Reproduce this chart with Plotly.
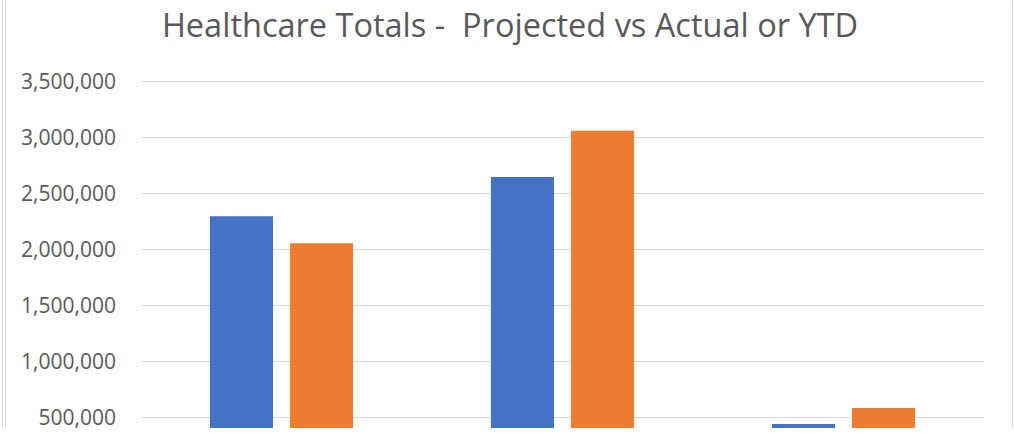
import plotly.graph_objects as go

categories = ["Period 1", "Period 2", "Period 3"]
projected = [2300000, 2650000, 445000]
actual_ytd = [2060000, 3065000, 587000]

W, H = 1014, 443
L, R, T, B = 141, 30, 70, 13

fig = go.Figure()
fig.add_trace(go.Bar(x=categories, y=projected, name="Projected",
                     marker=dict(color="#4472C4", line=dict(width=0))))
fig.add_trace(go.Bar(x=categories, y=actual_ytd, name="Actual or YTD",
                     marker=dict(color="#ED7D31", line=dict(width=0))))

pw = W - L - R
ph = H - T - B
def px2x(p):  # page px -> paper
    return (p - L) / pw
def py2y(p):
    return (H - B - p) / ph

border = "#d9d9d9"
shapes = []
for xp in (2.5, 5.5, 1012.5):
    shapes.append(dict(type="line", xref="paper", yref="paper",
                       x0=px2x(xp), x1=px2x(xp), y0=py2y(430), y1=py2y(0),
                       line=dict(color=border, width=1)))

fig.update_layout(
    width=W, height=H,
    margin=dict(l=L, r=R, t=T, b=B, pad=0),
    paper_bgcolor="white", plot_bgcolor="white",
    barmode="group", bargap=0.43, bargroupgap=0.2125,
    showlegend=False,
    title=dict(text="Healthcare Totals -  Projected vs Actual or YTD",
               x=510 / W, xanchor="center", y=1 - 26 / H,
               yanchor="middle",
               font=dict(family="Open Sans", size=32.5, color="#595959")),
    font=dict(family="Open Sans", color="#595959"),
    shapes=shapes,
)
fig.update_xaxes(showticklabels=False, showgrid=False, zeroline=False,
                 showline=False, ticks="")
fig.update_yaxes(range=[408500, 3606600], dtick=500000, tick0=0,
                 tickformat=",", showgrid=True, gridcolor="#d9d9d9",
                 gridwidth=1, zeroline=False, showline=False, ticks="",
                 ticklabelstandoff=24,
                 tickfont=dict(family="Open Sans", size=21, color="#595959"))

fig.write_html("out.html",
               config={"displayModeBar": False},
               post_script="document.body.style.margin='0';")
